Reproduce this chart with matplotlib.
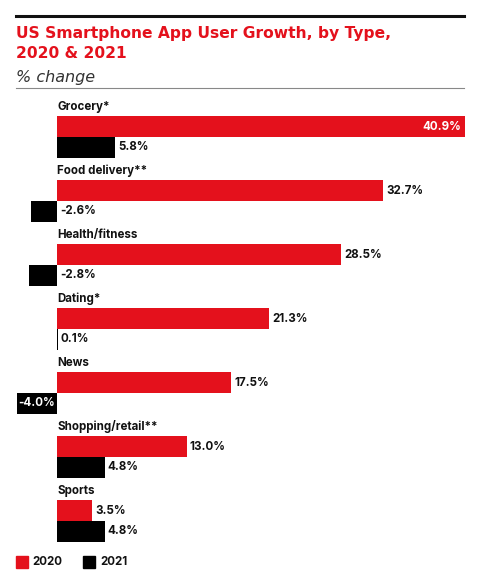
import matplotlib
matplotlib.use('Agg')
import matplotlib.pyplot as plt
from matplotlib.patches import Rectangle
from matplotlib.lines import Line2D

plt.rcParams['font.family'] = ['Inter', 'DejaVu Sans']

# data
categories = ['Grocery*', 'Food delivery**', 'Health/fitness', 'Dating*',
              'News', 'Shopping/retail**', 'Sports']
values_2020 = [40.9, 32.7, 28.5, 21.3, 17.5, 13.0, 3.5]
values_2021 = [5.8, -2.6, -2.8, 0.1, -4.0, 4.8, 4.8]
series_names = ['2020', '2021']

RED = '#E4111C'
BLACK = '#000000'
W, H = 491, 575
LBL = 8.3

fig = plt.figure(figsize=(W / 100, H / 100), dpi=100)


def fx(px):
    return px / W


def fy(py):
    return 1 - py / H


# header
fig.add_artist(Line2D([fx(16), fx(464)], [fy(16), fy(16)], color='#111111', lw=2.2))
fig.text(fx(16), fy(38), 'US Smartphone App User Growth, by Type,', color=RED,
         fontsize=11.2, fontweight='bold', va='baseline', family='DejaVu Sans')
fig.text(fx(16), fy(58.5), '2020 & 2021', color=RED,
         fontsize=11.2, fontweight='bold', va='baseline', family='DejaVu Sans')
fig.text(fx(16), fy(82), '% change', color='#333333', fontsize=11.5,
         fontstyle='italic', va='baseline', family='DejaVu Sans')
fig.add_artist(Line2D([fx(16), fx(464)], [fy(88), fy(88)], color='#888888', lw=0.8))

# chart axes: whole figure, zero at px 57, 9.97 px per %
ax = fig.add_axes([0, 0, 1, 1])
scale = 9.97
ax.set_xlim(-57 / scale, (W - 57) / scale)
ax.set_ylim((H - 137) / 64, -137 / 64)
ax.axis('off')

bh = 21 / 64
for i, cat in enumerate(categories):
    v0, v1 = values_2020[i], values_2021[i]
    ax.barh(i - bh / 2, v0, height=bh, color=RED)
    ax.barh(i + bh / 2, v1 if abs(v1) > 0.15 else 0.1, height=bh, color=BLACK)
    ax.text(0, i - 0.47, cat, fontsize=LBL, fontweight='bold', color='#111111',
            va='center', ha='left')
    # 2020 labels
    if v0 > 35:
        ax.annotate(f'{v0:.1f}%', (v0, i - bh / 2), xytext=(-4, 0),
                    textcoords='offset pixels', ha='right', va='center',
                    color='white', fontsize=LBL, fontweight='bold')
    else:
        ax.annotate(f'{v0:.1f}%', (v0, i - bh / 2), xytext=(3, 0),
                    textcoords='offset pixels', ha='left', va='center',
                    color='#111111', fontsize=LBL, fontweight='bold')
    # 2021 labels
    if v1 <= -3.5:
        ax.text(v1 / 2, i + bh / 2, f'{v1:.1f}%', ha='center', va='center',
                color='white', fontsize=LBL, fontweight='bold')
    else:
        ax.annotate(f'{v1:.1f}%', (max(v1, 0), i + bh / 2), xytext=(3, 0),
                    textcoords='offset pixels', ha='left', va='center',
                    color='#111111', fontsize=LBL, fontweight='bold')

# legend
for (x0, tx), name, c in zip([(16, 32), (83, 100)], series_names, [RED, BLACK]):
    fig.add_artist(Rectangle((fx(x0), fy(568)), 12 / W, 12 / H, color=c,
                             transform=fig.transFigure))
    fig.text(fx(tx), fy(562), name, fontsize=LBL, fontweight='bold',
             color='#111111', va='center')

fig.savefig('out.png', dpi=100)
